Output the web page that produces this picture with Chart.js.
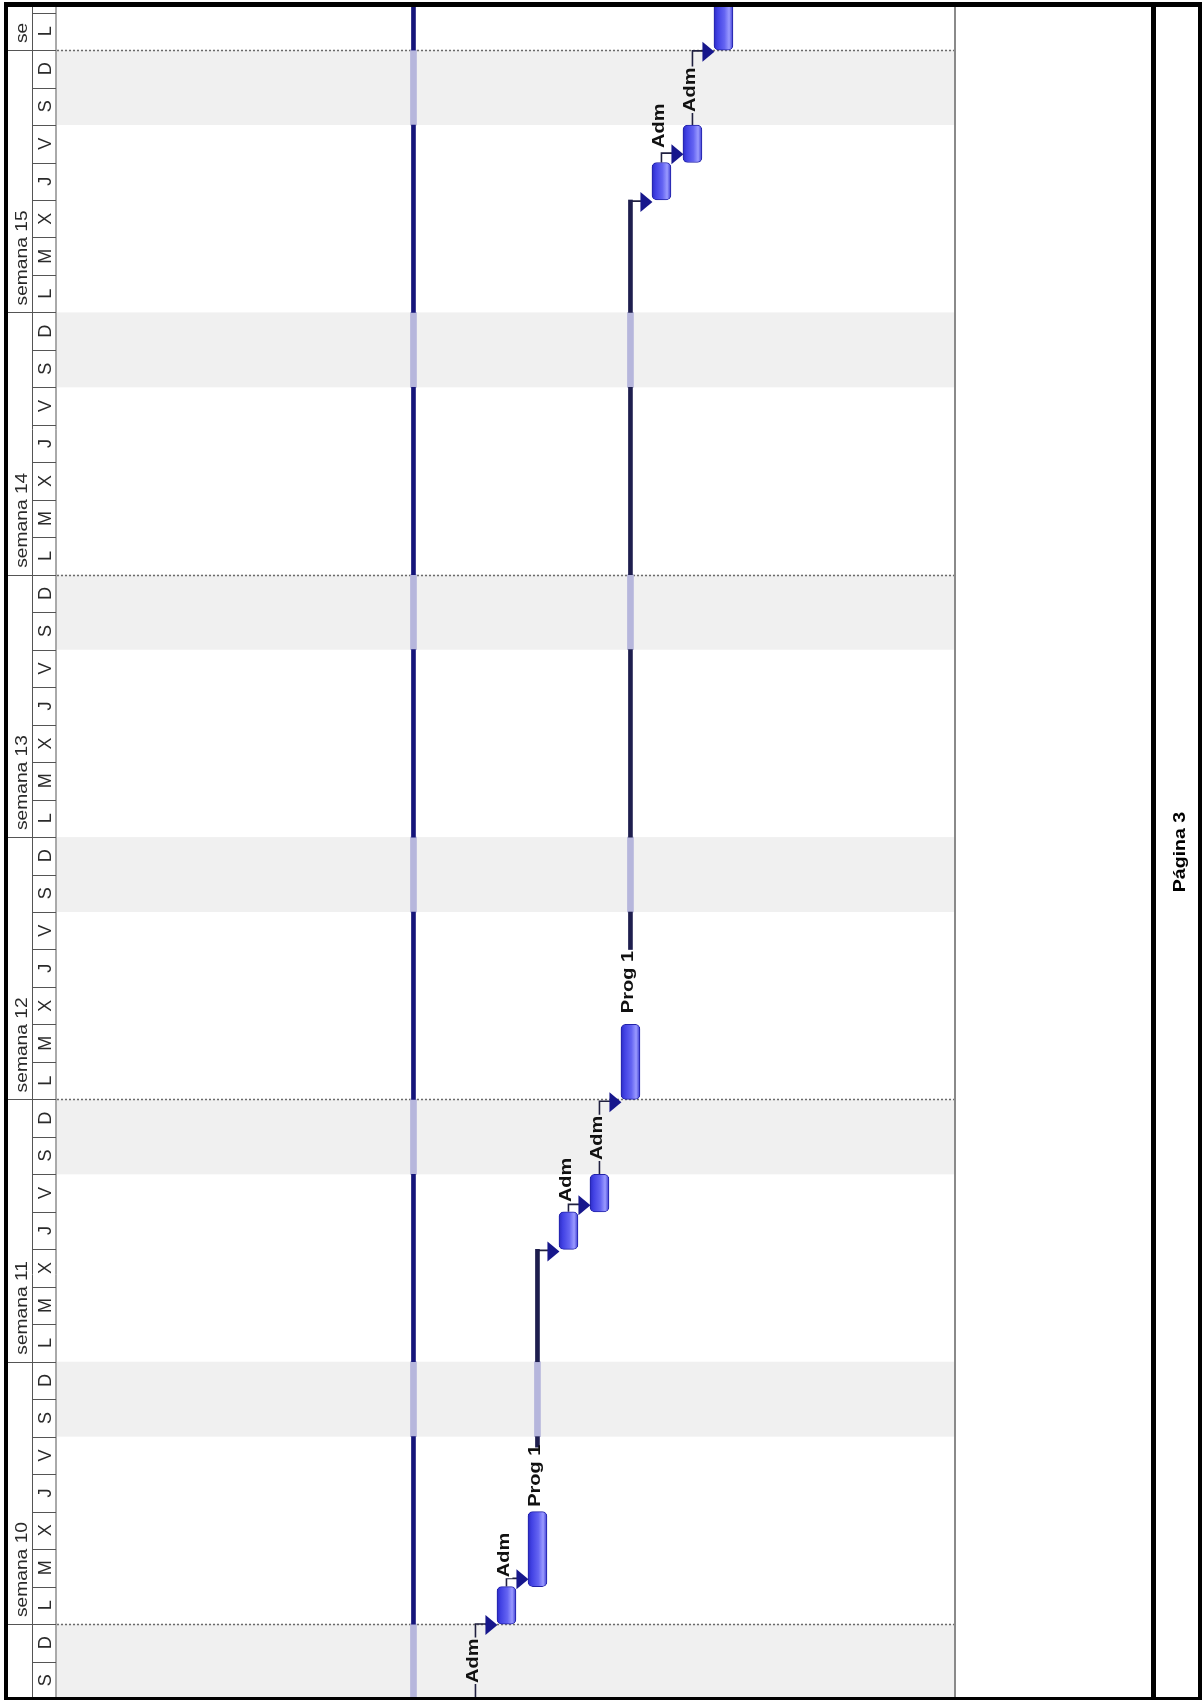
<!DOCTYPE html>
<html>
<head>
<meta charset="utf-8">
<script src="https://cdn.jsdelivr.net/npm/chart.js@4.4.1/dist/chart.umd.min.js"></script>
<style>
  html, body { margin: 0; padding: 0; background: #ffffff; }
  #wrap { width: 1204px; height: 1700px; position: relative; }
  canvas { display: block; }
</style>
</head>
<body>
<div id="wrap"><canvas id="gantt" width="1204" height="1700"></canvas></div>
<script>
// ---- Calendar (day 0 = lunes de la semana 10; days run upward) ----
const dayLetters   = ['L', 'M', 'X', 'J', 'V', 'S', 'D'];
const weekNumbers  = [9, 10, 11, 12, 13, 14, 15, 16];
const firstWeekDay = -7;          // lunes de la semana 9
const viewStart    = -2;
const viewEnd      = 43.15;
const pageBreakDays = [0, 14, 28, 42];
const pageLabel    = 'Página 3';

// ---- Task bars: row (left to right), start day, finish day ----
const taskRows  = [14, 15, 16, 17, 18, 19, 20, 21];
const taskStart = [0, 1, 10, 11, 14, 38, 39, 42];
const taskEnd   = [1, 3, 11, 12, 16, 39, 40, 44];

// ---- Resource labels written after each bar ----
const labelRows = [13, 14, 15, 16, 17, 18, 19, 20];
const labelText = ['Adm', 'Adm', 'Prog 1', 'Adm', 'Adm', 'Prog 1', 'Adm', 'Adm'];
const labelDay  = [-1.57, 1.25, 3.13, 11.26, 12.38, 16.3, 39.39, 40.35];

// ---- Thin duration lines (summary and waiting spans) ----
const lineRows = [11, 15, 18];
const lineFrom = [-2, 4.72, 18.0];
const lineTo   = [43.15, 10, 38];

// ---- Links: predecessor row / finish, successor row, turning day ----
const linkPredRow = [13, 14, 15, 16, 17, 18, 19, 20];
const linkPredEnd = [-2.2, 1, 9.97, 11, 12, 37.97, 39, 40];
const linkSuccRow = [14, 15, 16, 17, 18, 19, 20, 21];
const linkJoin    = [0, 1.22, 9.97, 11.2, 13.95, 37.97, 39.25, 41.98];

// ---- Build datasets ----
function splitByWeekend(from, to) {
  const segs = [];
  let a = from;
  while (a < to - 1e-9) {
    const wk = Math.floor(a / 7);
    const inWeek = a - wk * 7;
    let b, weekend;
    if (inWeek < 5 - 1e-9) { b = wk * 7 + 5; weekend = false; }
    else { b = wk * 7 + 7; weekend = true; }
    b = Math.min(b, to);
    segs.push({ a, b, weekend });
    a = b;
  }
  return segs;
}

const workSegs = [];
const restSegs = [];
lineRows.forEach((row, i) => {
  splitByWeekend(lineFrom[i], lineTo[i]).forEach(s => {
    const p = { x: row + 0.5, y: [s.a, s.b], row };
    (s.weekend ? restSegs : workSegs).push(p);
  });
});

const taskData = taskRows.map((row, i) => ({ x: row + 0.5, y: [taskStart[i], taskEnd[i]] }));

const LABEL_FONT = 'bold 16px "Liberation Sans", Arial, sans-serif';
const LABEL_STRETCH = 1.25;
const HEAD_FONT = '17px "Liberation Sans", Arial, sans-serif';
const HEAD_STRETCH = 1.13;
const DAY_FONT = '18px "Liberation Sans", Arial, sans-serif';

function labelBoxes(chart) {
  const xs = chart.scales.x, ys = chart.scales.y, ctx = chart.ctx;
  ctx.save();
  ctx.font = LABEL_FONT;
  const boxes = labelRows.map((row, i) => {
    const cx = xs.getPixelForValue(row + 0.5) - 3;
    const y0 = ys.getPixelForValue(labelDay[i]);
    const len = ctx.measureText(labelText[i]).width * LABEL_STRETCH;
    return { cx, y0, len, x: cx - 9, y: y0 - len - 1, w: 18, h: len + 2 };
  });
  ctx.restore();
  return boxes;
}

const backdrop = {
  id: 'backdrop',
  beforeDatasetsDraw(chart) {
    const { ctx, chartArea: ca } = chart;
    const xs = chart.scales.x, ys = chart.scales.y;
    ctx.save();
    ctx.beginPath();
    ctx.rect(ca.left, ca.top, ca.right - ca.left, ca.bottom - ca.top);
    ctx.clip();
    // weekend shading
    ctx.fillStyle = '#f0f0f0';
    for (let w = -1; w <= 7; w++) {
      const y1 = ys.getPixelForValue(w * 7 + 7);
      const y0 = ys.getPixelForValue(w * 7 + 5);
      ctx.fillRect(ca.left, y1, ca.right - ca.left, y0 - y1);
    }
    // page-break dotted lines
    ctx.strokeStyle = '#6a6a6a';
    ctx.lineWidth = 1.5;
    ctx.setLineDash([2, 2]);
    pageBreakDays.forEach(d => {
      const y = Math.round(ys.getPixelForValue(d)) + 0.5;
      ctx.beginPath(); ctx.moveTo(ca.left, y); ctx.lineTo(ca.right, y); ctx.stroke();
    });
    ctx.setLineDash([]);
    ctx.restore();

    // link lines, kept clear of the label text
    const boxes = labelBoxes(chart);
    ctx.save();
    ctx.beginPath();
    ctx.rect(ca.left, ca.top, ca.right - ca.left, ca.bottom - ca.top);
    boxes.forEach(b => ctx.rect(b.x, b.y, b.w, b.h));
    ctx.clip('evenodd');
    ctx.strokeStyle = '#202040';
    ctx.lineWidth = 1.6;
    linkPredRow.forEach((row, i) => {
      const xp = xs.getPixelForValue(row + 0.5);
      const tipX = xs.getPixelForValue(linkSuccRow[i] + 0.5) - 9.5;
      const yE = ys.getPixelForValue(linkPredEnd[i]);
      const yJ = ys.getPixelForValue(linkJoin[i]);
      ctx.beginPath();
      ctx.moveTo(xp, yE);
      ctx.lineTo(xp, yJ);
      ctx.lineTo(tipX - 10, yJ);
      ctx.stroke();
    });
    ctx.restore();
  },
  afterDatasetsDraw(chart) {
    const { ctx, chartArea: ca } = chart;
    const xs = chart.scales.x, ys = chart.scales.y;
    ctx.save();
    ctx.beginPath();
    ctx.rect(ca.left, ca.top, ca.right - ca.left, ca.bottom - ca.top);
    ctx.clip();
    // arrow heads
    ctx.fillStyle = '#17178c';
    linkSuccRow.forEach((row, i) => {
      const tipX = xs.getPixelForValue(row + 0.5) - 9;
      const yJ = ys.getPixelForValue(linkJoin[i]);
      ctx.beginPath();
      ctx.moveTo(tipX, yJ + 1);
      ctx.lineTo(tipX - 12, yJ - 9);
      ctx.lineTo(tipX - 12, yJ + 11);
      ctx.closePath();
      ctx.fill();
    });
    // resource labels
    const boxes = labelBoxes(chart);
    ctx.fillStyle = '#111111';
    ctx.font = LABEL_FONT;
    ctx.textBaseline = 'middle';
    ctx.textAlign = 'left';
    boxes.forEach((b, i) => {
      ctx.save();
      ctx.translate(b.cx, b.y0);
      ctx.rotate(-Math.PI / 2);
      ctx.scale(LABEL_STRETCH, 1);
      ctx.fillText(labelText[i], 0, 1);
      ctx.restore();
    });
    ctx.restore();
  },
  afterDraw(chart) {
    const { ctx, chartArea: ca } = chart;
    const ys = chart.scales.y;
    const top = 7, bottom = 1697;
    const col1L = 8, col1R = 32.5, col2R = 56;
    ctx.save();
    // timescale header
    ctx.strokeStyle = '#555555';
    ctx.lineWidth = 1;
    ctx.beginPath();
    ctx.moveTo(col1R, top); ctx.lineTo(col1R, bottom);
    ctx.moveTo(col2R, top); ctx.lineTo(col2R, bottom);
    ctx.stroke();
    // day cells
    for (let d = Math.floor(viewStart); d <= Math.ceil(viewEnd); d++) {
      const y = Math.round(ys.getPixelForValue(d)) + 0.5;
      if (y > top && y < bottom) {
        ctx.beginPath(); ctx.moveTo(col1R, y); ctx.lineTo(col2R, y); ctx.stroke();
      }
    }
    ctx.save();
    ctx.beginPath(); ctx.rect(col1R, top, col2R - col1R, bottom - top); ctx.clip();
    ctx.fillStyle = '#2a2a2a';
    ctx.font = DAY_FONT;
    ctx.textAlign = 'center';
    ctx.textBaseline = 'middle';
    for (let d = Math.floor(viewStart); d < Math.ceil(viewEnd); d++) {
      const yc = ys.getPixelForValue(d + 0.5);
      ctx.save();
      ctx.translate((col1R + col2R) / 2 + 0.5, yc);
      ctx.rotate(-Math.PI / 2);
      ctx.fillText(dayLetters[((d % 7) + 7) % 7], 0, 1);
      ctx.restore();
    }
    ctx.restore();
    // week cells
    ctx.font = HEAD_FONT;
    ctx.fillStyle = '#2a2a2a';
    ctx.textAlign = 'left';
    ctx.textBaseline = 'middle';
    weekNumbers.forEach((wn, i) => {
      const d0 = firstWeekDay + 7 * i;
      const yB = ys.getPixelForValue(d0);
      const yT = ys.getPixelForValue(d0 + 7);
      if (yB < bottom && yB > top) {
        const y = Math.round(yB) + 0.5;
        ctx.beginPath(); ctx.moveTo(col1L, y); ctx.lineTo(col1R, y); ctx.stroke();
      }
      if (yB > bottom) return;
      const start = yB - 7;
      const room = start - Math.max(yT, top) - 10;
      let txt = 'semana ' + wn;
      while (txt.length && ctx.measureText(txt).width * HEAD_STRETCH > room) txt = txt.slice(0, -1);
      if (!txt.trim()) return;
      ctx.save();
      ctx.translate((col1L + col1R) / 2 + 1, start);
      ctx.rotate(-Math.PI / 2);
      ctx.scale(HEAD_STRETCH, 1);
      ctx.fillText(txt, 0, 1);
      ctx.restore();
    });

    // frame and side panels
    ctx.fillStyle = '#8a8a8a';
    ctx.fillRect(ca.right - 1, top, 2, bottom - top);
    ctx.fillStyle = '#000000';
    ctx.fillRect(4, 2, 1198, 5);
    ctx.fillRect(4, 2, 4, 1698);
    ctx.fillRect(1198, 2, 4, 1698);
    ctx.fillRect(4, 1697, 1198, 3);
    ctx.fillRect(1151, 2, 5, 1698);

    ctx.font = 'bold 17px "Liberation Sans", Arial, sans-serif';
    ctx.textAlign = 'center';
    ctx.textBaseline = 'middle';
    ctx.save();
    ctx.translate(1180, 852);
    ctx.rotate(-Math.PI / 2);
    ctx.scale(1.15, 1);
    ctx.fillText(pageLabel, 0, 0);
    ctx.restore();
    ctx.restore();
  }
};

function cylinderFill(c) {
  const chart = c.chart;
  const xs = chart.scales && chart.scales.x;
  if (!xs || !c.raw) return '#5a5af0';
  const cx = xs.getPixelForValue(c.raw.x);
  if (!Number.isFinite(cx)) return '#5a5af0';
  const g = chart.ctx.createLinearGradient(cx - 9.5, 0, cx + 9.5, 0);
  g.addColorStop(0, '#2c2cc4');
  g.addColorStop(0.2, '#4242e4');
  g.addColorStop(0.55, '#6464f2');
  g.addColorStop(0.8, '#9a9aff');
  g.addColorStop(1, '#3a3ad2');
  return g;
}

new Chart(document.getElementById('gantt'), {
  type: 'bar',
  data: {
    datasets: [
      {
        label: 'laborable',
        data: workSegs,
        backgroundColor: c => (c.raw && c.raw.row === 11) ? '#15157a' : '#1e1e4e',
        barThickness: 4,
        grouped: false,
        borderWidth: 0
      },
      {
        label: 'no laborable',
        data: restSegs,
        backgroundColor: '#b6b6dc',
        barThickness: 6,
        grouped: false,
        borderWidth: 0
      },
      {
        label: 'tareas',
        data: taskData,
        backgroundColor: cylinderFill,
        borderColor: '#2222a8',
        borderWidth: 1,
        borderRadius: 5,
        borderSkipped: false,
        barThickness: 19,
        grouped: false
      }
    ]
  },
  options: {
    responsive: false,
    maintainAspectRatio: false,
    animation: false,
    events: [],
    layout: { padding: { left: 57, right: 249, top: 7, bottom: 1 } },
    scales: {
      x: { type: 'linear', min: 0, max: 28.97, offset: false, display: false },
      y: { type: 'linear', min: viewStart, max: viewEnd, display: false }
    },
    plugins: { legend: { display: false }, tooltip: { enabled: false } }
  },
  plugins: [backdrop]
});
</script>
</body>
</html>
